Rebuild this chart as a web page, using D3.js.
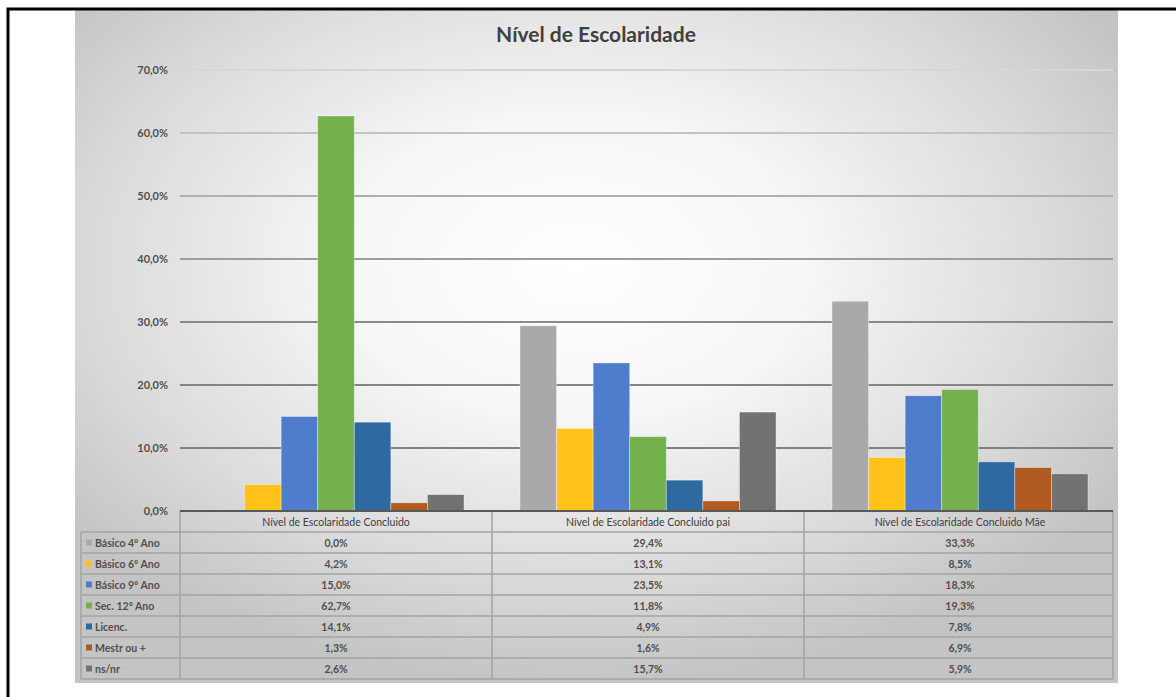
<!DOCTYPE html>
<html lang="pt">
<head>
<meta charset="UTF-8">
<title>Nível de Escolaridade</title>
<script src="https://cdn.jsdelivr.net/npm/d3@7"></script>
<style>
    html, body { margin: 0; background: #fff; }
    svg { display: block; font-family: Lato, "Open Sans", sans-serif; }
</style>
</head>
<body>
<svg id="chart"></svg>
<script>
const categories = ["Nível de Escolaridade Concluido", "Nível de Escolaridade Concluido pai", "Nível de Escolaridade Concluido Mãe"];
const series = ["Básico 4º Ano", "Básico 6º Ano", "Básico 9º Ano", "Sec. 12º Ano", "Licenc.", "Mestr ou +", "ns/nr"];
// one array per series, in category order
const basico4 = [0.0, 29.4, 33.3];
const basico6 = [4.2, 13.1, 8.5];
const basico9 = [15.0, 23.5, 18.3];
const sec12 = [62.7, 11.8, 19.3];
const licenc = [14.1, 4.9, 7.8];
const mestr = [1.3, 1.6, 6.9];
const nsnr = [2.6, 15.7, 5.9];
const yTicks = [0, 10, 20, 30, 40, 50, 60, 70];
const values = [basico4, basico6, basico9, sec12, licenc, mestr, nsnr];

const colors = ["#a9a9a9", "#ffc21a", "#4f7ccc", "#74b04b", "#2f69a2", "#b05a22", "#727272"];

const W = 1176, H = 697;
const svg = d3.select("#chart").attr("width", W).attr("height", H);

const locale = d3.formatLocale({decimal: ",", thousands: ".", grouping: [3], currency: ["", "€"]});
const pct = v => locale.format(".1f")(v) + "%";

// background gradient of the chart area
const defs = svg.append("defs");
const grad = defs.append("radialGradient").attr("id", "bg")
    .attr("cx", "48%").attr("cy", "38%").attr("r", "62%")
    .attr("fx", "48%").attr("fy", "38%");
grad.append("stop").attr("offset", "0%").attr("stop-color", "#ffffff");
grad.append("stop").attr("offset", "35%").attr("stop-color", "#f7f7f7");
grad.append("stop").attr("offset", "75%").attr("stop-color", "#dadada");
grad.append("stop").attr("offset", "100%").attr("stop-color", "#c4c4c4");

const area = {x: 75, y: 10, w: 1043, h: 673};
svg.append("rect").attr("x", area.x).attr("y", area.y)
    .attr("width", area.w).attr("height", area.h).attr("fill", "url(#bg)");

// outer frame
svg.append("rect").attr("x", 8).attr("y", 9).attr("width", 1400).attr("height", 1000)
    .attr("fill", "none").attr("stroke", "#000").attr("stroke-width", 3);

// title
svg.append("text").attr("x", 596).attr("y", 42).attr("text-anchor", "middle")
    .attr("font-size", 21).attr("font-weight", 700).attr("fill", "#404040")
    .text("Nível de Escolaridade");

const plotLeft = 180, plotRight = 1116, y0 = 511;
const x0 = d3.scaleBand().domain(categories).range([plotLeft, plotRight]).padding(0);
const x1 = d3.scaleBand().domain(series).range([28, x0.bandwidth() - 28]).padding(0);
const y = d3.scaleLinear().domain([0, 70]).range([y0, 70]);
const gridColor = d3.scaleLinear().domain([0, 30, 70]).range(["#7c7c7c", "#8a8a8a", "#d6d6d6"]);

// gridlines + y labels
const yAxis = svg.append("g").attr("transform", `translate(${plotLeft},0)`)
    .call(d3.axisLeft(y).tickValues(yTicks).tickFormat(pct).tickSize(0).tickPadding(12));
yAxis.select(".domain").remove();
yAxis.selectAll("text").attr("font-size", 11).attr("fill", "#505050")
    .attr("font-family", "Lato, sans-serif").attr("font-weight", 700);
svg.append("g").selectAll("line")
    .data(yTicks.filter(d => d > 0))
    .join("line")
    .attr("x1", plotLeft).attr("x2", plotRight - 3)
    .attr("y1", d => y(d)).attr("y2", d => y(d))
    .attr("stroke", d => gridColor(d)).attr("stroke-width", 2);

// bars
const rows = series.map((s, i) => ({name: s, color: colors[i], vals: values[i]}));
const groups = svg.append("g").selectAll("g")
    .data(categories)
    .join("g")
    .attr("transform", d => `translate(${x0(d)},0)`);
groups.selectAll("rect")
    .data((c, ci) => rows.map(r => ({name: r.name, color: r.color, v: r.vals[ci]})))
    .join("rect")
    .attr("x", d => x1(d.name))
    .attr("width", x1.bandwidth())
    .attr("y", d => y(d.v))
    .attr("height", d => y0 - y(d.v))
    .attr("fill", d => d.color)
    .attr("stroke", "rgba(255,255,255,0.45)").attr("stroke-width", 0.8);

// data table
const tableTop = y0, headH = 21;
const rowY = d3.scaleBand().domain(series).range([tableTop + headH, tableTop + headH + 147]);
const tableBottom = rowY.range()[1];
const legendLeft = 81;
const table = svg.append("g");
const lineCol = "#a3a3a3";

// horizontal lines
table.selectAll("line.h")
    .data(series.slice(1).concat(["__bottom"]))
    .join("line")
    .attr("class", "h")
    .attr("x1", legendLeft).attr("x2", plotRight - 3)
    .attr("y1", d => d === "__bottom" ? tableBottom : rowY(d))
    .attr("y2", d => d === "__bottom" ? tableBottom : rowY(d))
    .attr("stroke", lineCol).attr("stroke-width", 1.5);
table.append("line").attr("x1", legendLeft).attr("x2", plotRight - 3)
    .attr("y1", rowY(series[0])).attr("y2", rowY(series[0]))
    .attr("stroke", lineCol).attr("stroke-width", 1.5);
// vertical lines
table.selectAll("line.v")
    .data(categories.map(c => x0(c)).concat([plotRight - 3]))
    .join("line")
    .attr("class", "v")
    .attr("x1", d => d).attr("x2", d => d)
    .attr("y1", tableTop).attr("y2", tableBottom)
    .attr("stroke", lineCol).attr("stroke-width", 1.5);
table.append("line").attr("x1", legendLeft).attr("x2", legendLeft)
    .attr("y1", rowY(series[0])).attr("y2", tableBottom)
    .attr("stroke", lineCol).attr("stroke-width", 1.5);

// header
table.selectAll("text.head")
    .data(categories)
    .join("text")
    .attr("class", "head")
    .attr("x", d => x0(d) + x0.bandwidth() / 2)
    .attr("y", tableTop + headH / 2 + 4)
    .attr("text-anchor", "middle")
    .attr("font-size", 10.5).attr("fill", "#404040")
    .text(d => d);

// legend column
const leg = table.selectAll("g.leg")
    .data(rows)
    .join("g")
    .attr("class", "leg")
    .attr("transform", d => `translate(${legendLeft},${rowY(d.name)})`);
leg.append("rect").attr("x", 5).attr("y", rowY.bandwidth() / 2 - 3)
    .attr("width", 6).attr("height", 6).attr("fill", d => d.color);
leg.append("text").attr("x", 14).attr("y", rowY.bandwidth() / 2 + 4)
    .attr("font-size", 10.5).attr("font-weight", 700).attr("fill", "#505050")
    .text(d => d.name);

// values
categories.forEach((c, ci) => {
    table.append("g").selectAll("text")
        .data(rows)
        .join("text")
        .attr("x", x0(c) + x0.bandwidth() / 2)
        .attr("y", d => rowY(d.name) + rowY.bandwidth() / 2 + 4)
        .attr("text-anchor", "middle")
        .attr("font-size", 10.5).attr("font-weight", 700).attr("fill", "#505050")
        .text(d => pct(d.vals[ci]));
});

// category axis line
svg.append("line").attr("x1", plotLeft).attr("x2", plotRight - 3)
    .attr("y1", y0).attr("y2", y0)
    .attr("stroke", "#595959").attr("stroke-width", 2);
</script>
</body>
</html>
